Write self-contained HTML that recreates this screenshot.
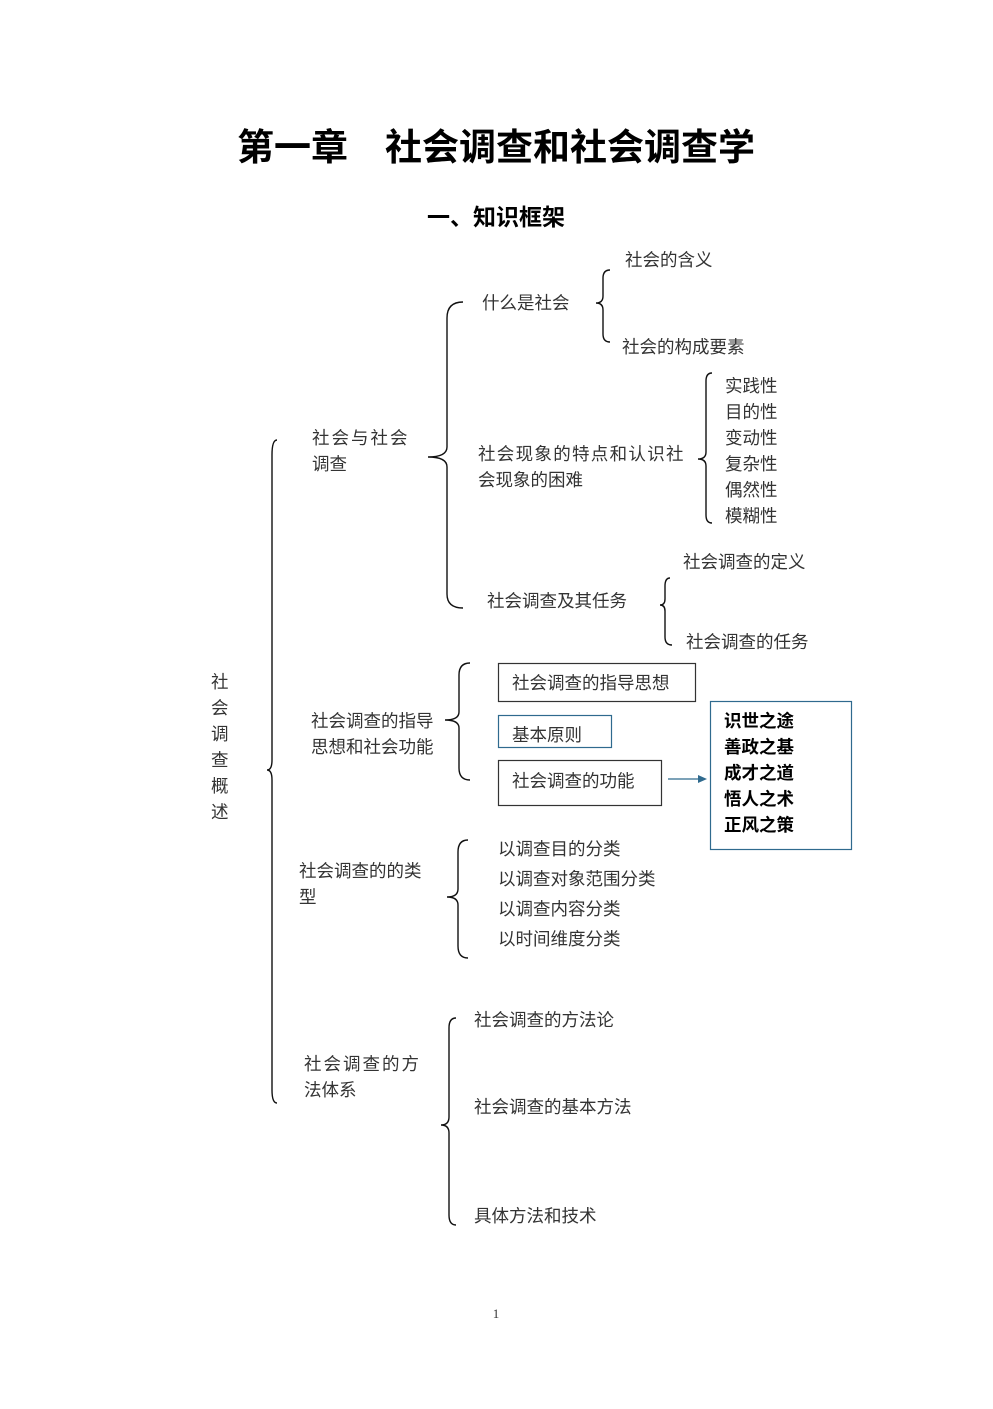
<!DOCTYPE html>
<html><head><meta charset="utf-8"><style>
body{margin:0;background:#fff}
svg text{font-family:"Liberation Sans","Noto Sans CJK SC",sans-serif;fill:#333;font-size:17.5px}
.b{font-weight:bold;fill:#000}
</style></head><body>
<svg width="993" height="1404" xmlns="http://www.w3.org/2000/svg">
<text x="496" y="160" text-anchor="middle" class="b" style="font-size:37px">第一章　社会调查和社会调查学</text>
<text x="496" y="225" text-anchor="middle" class="b" style="font-size:23px">一、知识框架</text>
<g fill="none" stroke="#111" stroke-width="1.4">
<path d="M277 440 Q272 440 272 455 L272 760 Q272 770 267 770 Q272 770 272 780 L272 1090 Q272 1103 277 1103"/>
<path d="M463 302 Q447 302 447 318 L447 447 Q447 457 428 457 Q447 457 447 467 L447 594 Q447 608 463 608"/>
<path d="M610 270 Q603 270 603 278 L603 296 Q603 303 596 303 Q603 303 603 310 L603 334 Q603 342 610 342"/>
<path d="M712 373 Q706 373 706 381 L706 452 Q706 459 698 459 Q706 459 706 466 L706 515 Q706 523 712 523"/>
<path d="M670 578 Q665 578 665 586 L665 599 Q665 605 660 605 Q665 605 665 611 L665 637 Q665 645 672 645"/>
<path d="M470 663 Q459 663 459 675 L459 712 Q459 720 445 720 Q459 720 459 728 L459 768 Q459 780 470 780"/>
<path d="M468 840 Q458 840 458 852 L458 889 Q458 897 447 897 Q458 897 458 905 L458 946 Q458 958 468 958"/>
<path d="M456 1018 Q449 1018 449 1028 L449 1117 Q449 1125 441 1125 Q449 1125 449 1133 L449 1215 Q449 1225 456 1225"/>
</g>
<rect x="498.5" y="663.5" width="197" height="38" fill="none" stroke="#333" stroke-width="1.2"/>
<rect x="498.5" y="715.5" width="113" height="32" fill="none" stroke="#2f6a8e" stroke-width="1.2"/>
<rect x="498.5" y="760.5" width="163" height="45" fill="none" stroke="#333" stroke-width="1.2"/>
<rect x="710.5" y="701.5" width="141" height="148" fill="none" stroke="#2f6a8e" stroke-width="1.2"/>
<line x1="668" y1="779" x2="700" y2="779" stroke="#2f6a8e" stroke-width="1.2"/>
<path d="M698 775 L707 779 L698 783Z" fill="#2f6a8e"/>
<text x="625" y="266">社会的含义</text>
<text x="482" y="309">什么是社会</text>
<text x="622" y="353">社会的构成要素</text>
<text x="725" y="392">实践性</text>
<text x="725" y="418">目的性</text>
<text x="725" y="444">变动性</text>
<text x="725" y="470">复杂性</text>
<text x="725" y="496">偶然性</text>
<text x="725" y="522">模糊性</text>
<text x="312" y="444" letter-spacing="2">社会与社会</text>
<text x="312" y="470">调查</text>
<text x="478" y="460" letter-spacing="1.3">社会现象的特点和认识社</text>
<text x="478" y="486">会现象的困难</text>
<text x="683" y="568">社会调查的定义</text>
<text x="487" y="607">社会调查及其任务</text>
<text x="686" y="648">社会调查的任务</text>
<text x="211" y="688">社</text><text x="211" y="714">会</text><text x="211" y="740">调</text><text x="211" y="766">查</text><text x="211" y="792">概</text><text x="211" y="818">述</text>
<text x="311" y="727">社会调查的指导</text>
<text x="311" y="753">思想和社会功能</text>
<text x="512" y="689">社会调查的指导思想</text>
<text x="512" y="741">基本原则</text>
<text x="512" y="787">社会调查的功能</text>
<text x="724" y="727" class="b">识世之途</text>
<text x="724" y="753" class="b">善政之基</text>
<text x="724" y="779" class="b">成才之道</text>
<text x="724" y="805" class="b">悟人之术</text>
<text x="724" y="831" class="b">正风之策</text>
<text x="299" y="877">社会调查的的类</text>
<text x="299" y="903">型</text>
<text x="498" y="855">以调查目的分类</text>
<text x="498" y="885">以调查对象范围分类</text>
<text x="498" y="915">以调查内容分类</text>
<text x="498" y="945">以时间维度分类</text>
<text x="474" y="1026">社会调查的方法论</text>
<text x="304" y="1070" letter-spacing="2">社会调查的方</text>
<text x="304" y="1096">法体系</text>
<text x="474" y="1113">社会调查的基本方法</text>
<text x="474" y="1222">具体方法和技术</text>
<text x="496" y="1318" text-anchor="middle" style="font-size:13px;font-family:'Liberation Serif',serif">1</text>
</svg>
</body></html>
